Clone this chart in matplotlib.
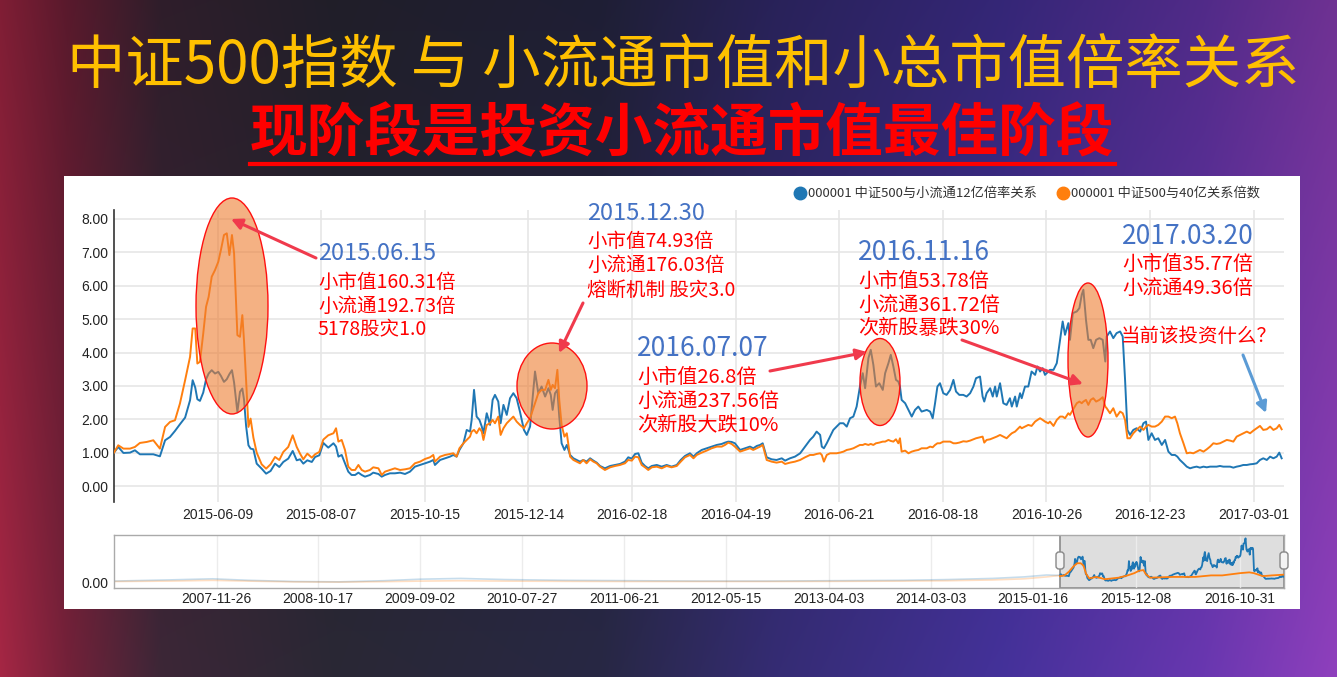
import numpy as np
import matplotlib
matplotlib.use('Agg')
import matplotlib.pyplot as plt
from matplotlib.patches import Ellipse, Rectangle, FancyBboxPatch

plt.rcParams['font.family'] = ['Noto Sans CJK SC', 'DejaVu Sans']

# ---------------- data (x = trading day index since 2015-04) ----------------
day_a = [0, 1.8, 4.0, 6.8, 8.9, 11.0, 13.9, 16.7, 19.5, 21.7, 23.8, 25.9, 28.0, 30.2, 32.3,
         33.4, 34.5, 35.4, 36.5, 37.9, 39.1, 40.2, 41.5, 42.9, 44.3, 45.4, 46.7, 47.9, 49.0,
         50.1, 51.0, 51.8, 52.4, 53.5, 54.5, 55.2, 56.1, 57.1, 58.0, 59.2, 60.6, 62.7, 64.6,
         66.5, 68.4, 70.2, 71.9, 74.0, 75.9, 77.6, 79.0, 80.4, 82.1, 84.0, 85.4, 87.2, 88.9, 91.0]
blue_a = [1.00, 1.17, 0.99, 1.00, 1.07, 0.95, 0.95, 0.95, 0.89, 1.37, 1.47, 1.65, 1.85, 2.05, 2.57,
          3.17, 2.95, 2.60, 2.55, 2.80, 3.20, 3.37, 3.47, 3.37, 3.42, 3.30, 3.12, 3.20, 3.35,
          3.47, 3.10, 2.60, 2.22, 2.82, 2.92, 2.60, 1.80, 1.22, 1.12, 1.10, 0.67, 0.52, 0.37,
          0.45, 0.67, 0.57, 0.72, 0.82, 1.05, 0.77, 0.80, 0.67, 0.77, 0.72, 0.87, 0.92, 1.29, 1.15]
orange_a = [1.00, 1.22, 1.12, 1.12, 1.17, 1.29, 1.32, 1.37, 1.12, 1.77, 1.92, 1.97, 2.47, 3.17, 3.87,
            4.72, 4.72, 3.67, 3.72, 4.57, 5.37, 5.67, 6.27, 6.47, 6.72, 7.07, 7.52, 7.57, 6.92,
            7.52, 6.97, 5.57, 4.52, 4.47, 5.12, 4.37, 3.17, 1.77, 2.02, 1.45, 1.00, 0.65, 0.52,
            0.65, 0.87, 0.78, 1.02, 1.17, 1.52, 1.17, 0.97, 0.80, 0.97, 0.85, 0.95, 1.02, 1.39, 1.52]

day_b = [93.2, 94.3, 95.3, 96.7, 98.1, 99.5, 100.9, 102.4, 103.8, 105.2, 106.6, 108.7, 110.1,
         112.3, 113.7, 115.1, 117.2, 119.3, 121.5, 123.6, 125.7, 127.8, 130.0, 132.1, 134.2,
         135.6, 136.3, 138.5, 140.6, 142.7, 144.1, 145.5, 146.7, 148.4, 149.8, 151.2, 151.9,
         152.9, 154.0, 155.2, 156.2, 156.9, 158.3, 159.7, 160.8, 161.8, 163.2, 164.2, 165.4,
         166.8, 168.2, 169.6, 171.0, 172.4, 174.1, 175.3, 176.7, 178.8, 180.2, 181.6, 183.1,
         184.5, 185.5, 186.3, 187.3, 188.3, 189.1, 190.1, 191.3, 192.3]
blue_b = [1.28, 1.18, 0.88, 0.93, 0.68, 0.43, 0.33, 0.33, 0.40, 0.33, 0.28, 0.33, 0.40,
          0.36, 0.28, 0.33, 0.38, 0.38, 0.40, 0.36, 0.43, 0.58, 0.63, 0.68, 0.73,
          0.78, 0.63, 0.78, 0.83, 0.88, 0.93, 0.88, 1.08, 1.28, 1.68, 1.63, 1.98,
          2.88, 2.08, 1.98, 1.78, 1.58, 2.18, 1.83, 2.58, 2.73, 2.53, 1.88, 2.43,
          2.13, 2.63, 2.78, 2.63, 2.23, 1.68, 1.53, 1.78, 3.43, 2.78, 2.98, 2.68,
          2.93, 2.73, 2.28, 2.78, 2.88, 2.08, 1.28, 1.08, 1.23]
orange_b = [1.58, 1.73, 1.33, 1.38, 1.08, 0.58, 0.48, 0.48, 0.63, 0.48, 0.43, 0.48, 0.56,
            0.53, 0.33, 0.43, 0.48, 0.53, 0.48, 0.50, 0.53, 0.68, 0.73, 0.81, 0.86,
            0.93, 0.73, 0.88, 0.93, 0.96, 0.98, 0.88, 1.13, 1.28, 1.38, 1.48, 1.63,
            1.68, 1.58, 1.73, 1.63, 1.38, 1.83, 1.88, 1.98, 1.88, 2.08, 1.53, 1.73,
            1.88, 1.98, 2.08, 1.93, 1.83, 1.73, 1.88, 2.03, 2.48, 2.78, 2.88, 2.88,
            3.18, 2.88, 3.03, 2.93, 3.48, 2.58, 1.83, 1.48, 1.58]

day_c = [193.7, 195.1, 196.5, 197.9, 199.3, 200.7, 202.2, 203.6, 205.0, 206.4, 208.5, 210.7,
         212.8, 214.9, 217.0, 218.4, 219.9, 221.3, 222.7, 224.1, 225.5, 226.9, 228.4, 230.5,
         232.6, 234.7, 236.8, 239.0, 240.7, 242.5, 244.6, 246.1, 247.5, 249.6, 251.7, 253.8,
         256.0, 258.1, 259.5, 260.9, 262.3, 263.7, 265.9, 268.0, 270.1, 271.5, 273.0, 274.4,
         275.5, 277.2, 279.3, 281.4, 283.6, 285.0, 287.1, 289.2, 291.4, 293.5]
blue_c = [0.93, 0.83, 0.78, 0.73, 0.78, 0.73, 0.83, 0.76, 0.70, 0.60, 0.53, 0.60,
          0.63, 0.66, 0.73, 0.86, 0.82, 0.96, 0.98, 0.70, 0.60, 0.53, 0.60, 0.63,
          0.58, 0.63, 0.58, 0.63, 0.78, 0.90, 0.98, 0.88, 0.98, 1.08, 1.13, 1.18,
          1.23, 1.26, 1.30, 1.33, 1.32, 1.28, 1.08, 1.13, 1.18, 1.13, 1.20, 1.23,
          1.28, 0.86, 0.80, 0.78, 0.83, 0.76, 0.83, 0.88, 0.98, 1.18]
orange_c = [0.88, 0.78, 0.73, 0.68, 0.78, 0.68, 0.80, 0.73, 0.68, 0.58, 0.48, 0.56,
            0.60, 0.63, 0.68, 0.78, 0.76, 0.88, 0.86, 0.63, 0.56, 0.48, 0.56, 0.58,
            0.53, 0.60, 0.56, 0.60, 0.73, 0.86, 0.93, 0.83, 0.93, 1.00, 1.06, 1.13,
            1.18, 1.18, 1.23, 1.30, 1.26, 1.18, 1.03, 1.08, 1.13, 1.08, 1.13, 1.18,
            1.23, 0.78, 0.73, 0.70, 0.73, 0.66, 0.70, 0.73, 0.78, 0.86]

day_d = [295.6, 297.0, 298.4, 299.9, 300.6, 301.5, 302.7, 304.1, 305.5, 306.9, 308.3, 309.8,
         311.2, 312.6, 314.0, 315.4, 316.8, 318.0, 319.0, 320.4, 321.4, 322.5, 323.6, 325.0,
         326.5, 327.5, 328.9, 329.9, 331.0, 332.1, 333.1, 333.8, 334.5, 336.0, 337.4, 338.8,
         340.2, 341.6, 343.0, 345.2, 346.6, 347.7, 348.7, 349.7, 350.8, 352.2, 353.6, 355.1,
         356.5, 357.6, 359.0, 360.7, 362.1, 363.6, 365.0, 366.1, 367.8, 368.9, 369.6, 370.6,
         372.1, 373.2, 374.2, 374.9, 376.3, 377.7, 379.1, 380.5, 381.3, 382.7, 383.4, 384.8,
         385.5, 386.9, 388.3, 389.7, 391.2, 392.2, 393.3, 394.4, 395.4, 396.8]
blue_d = [1.38, 1.48, 1.63, 1.53, 1.18, 1.13, 1.28, 1.48, 1.68, 1.78, 1.88, 1.88,
          1.78, 2.03, 2.08, 2.38, 2.98, 3.38, 2.93, 3.83, 4.08, 3.63, 2.98, 3.08,
          2.88, 3.38, 3.68, 3.93, 3.58, 3.18, 3.13, 2.98, 2.58, 2.48, 2.28, 2.08,
          2.28, 2.38, 2.23, 2.28, 2.23, 2.03, 2.48, 2.98, 3.08, 2.78, 2.73, 2.88,
          3.18, 2.83, 2.73, 2.73, 2.68, 2.78, 2.98, 3.23, 3.28, 2.68, 2.53, 2.78,
          2.93, 2.68, 2.98, 2.68, 3.08, 2.48, 2.43, 2.63, 2.38, 2.68, 2.38, 2.78,
          2.63, 2.98, 2.98, 3.43, 3.33, 3.58, 3.43, 3.53, 3.33, 3.43]
orange_d = [0.93, 0.93, 0.96, 0.98, 0.93, 0.73, 0.93, 0.98, 0.98, 0.98, 1.00, 1.03,
            1.08, 1.10, 1.13, 1.18, 1.23, 1.23, 1.26, 1.23, 1.26, 1.23, 1.28, 1.30,
            1.33, 1.33, 1.38, 1.35, 1.33, 1.40, 1.28, 1.43, 1.03, 1.06, 0.98, 1.03,
            1.06, 1.08, 1.13, 1.13, 1.18, 1.16, 1.23, 1.28, 1.28, 1.33, 1.33, 1.33,
            1.28, 1.28, 1.30, 1.34, 1.33, 1.36, 1.40, 1.43, 1.46, 1.48, 1.30, 1.38,
            1.40, 1.43, 1.46, 1.48, 1.53, 1.48, 1.43, 1.53, 1.58, 1.63, 1.68, 1.78,
            1.73, 1.78, 1.83, 1.80, 1.93, 1.98, 2.03, 1.98, 1.93, 1.88]

day_e = [397.5, 399.0, 400.4, 401.8, 402.9, 403.9, 405.3, 406.0, 407.2, 408.9, 410.0, 411.0,
         411.7, 412.8, 413.8, 414.8, 415.9, 417.1, 418.5, 419.9, 421.0, 421.6, 423.0, 424.4,
         425.8, 427.3, 428.4, 429.4, 430.4, 431.5, 432.9, 434.3, 435.8, 437.2, 438.3, 439.3,
         440.7, 442.1, 443.5, 445.0, 446.4, 447.8, 449.2, 450.6, 451.6, 452.7, 454.2, 455.6,
         457.0, 458.4, 459.8, 461.2, 462.7, 464.1, 465.5, 466.9, 468.3, 469.7, 471.1, 472.6,
         474.0, 475.4, 476.8, 478.2, 479.6, 481.1, 482.5, 483.9, 485.3, 486.7, 488.1, 489.6,
         491.0, 492.4, 493.8, 494.9, 495.9]
blue_e = [3.48, 3.48, 3.68, 4.38, 4.93, 4.53, 4.88, 4.38, 5.18, 5.23, 5.33, 5.73,
          5.88, 4.98, 4.38, 4.38, 4.13, 4.38, 4.43, 4.38, 3.73, 4.48, 4.63, 4.43,
          4.58, 4.63, 4.48, 3.18, 1.68, 1.53, 1.68, 1.73, 1.63, 1.88, 1.93, 1.38,
          1.58, 1.38, 1.43, 1.23, 1.38, 1.03, 0.93, 0.93, 0.88, 0.78, 0.68, 0.58,
          0.53, 0.56, 0.58, 0.55, 0.58, 0.56, 0.58, 0.58, 0.58, 0.60, 0.58, 0.58,
          0.58, 0.55, 0.58, 0.60, 0.63, 0.63, 0.65, 0.66, 0.68, 0.78, 0.83, 0.78,
          0.88, 0.83, 0.88, 1.00, 0.83]
orange_e = [1.93, 1.80, 1.98, 2.08, 2.08, 2.03, 2.18, 2.13, 2.28, 2.48, 2.53, 2.48,
            2.53, 2.58, 2.43, 2.58, 2.63, 2.53, 2.58, 2.66, 2.38, 2.33, 2.18, 2.33,
            2.08, 2.23, 2.18, 1.98, 1.43, 1.43, 1.58, 1.68, 1.78, 1.68, 1.78, 1.83,
            1.78, 1.78, 1.83, 1.93, 2.08, 2.08, 2.03, 2.08, 1.88, 1.58, 1.28, 0.98,
            1.00, 0.98, 1.03, 1.08, 1.03, 1.10, 1.18, 1.28, 1.26, 1.28, 1.33, 1.38,
            1.36, 1.33, 1.48, 1.53, 1.58, 1.63, 1.58, 1.66, 1.73, 1.80, 1.68, 1.70,
            1.78, 1.68, 1.73, 1.83, 1.70]

# navigator history before the zoomed window (trading days before 2015-04)
hist_day = [-2099, -1980, -1880, -1800, -1700, -1600, -1500, -1420, -1330, -1230, -1100,
            -950, -800, -650, -500, -350, -250, -150, -80, -30, 0]
hist_blue = [0.25, 0.40, 0.55, 0.35, 0.20, 0.15, 0.30, 0.50, 0.60, 0.45, 0.35,
             0.30, 0.25, 0.25, 0.30, 0.35, 0.45, 0.60, 0.80, 1.05, 1.00]
hist_orange = [0.20, 0.25, 0.35, 0.25, 0.15, 0.12, 0.18, 0.25, 0.30, 0.25, 0.22,
               0.20, 0.20, 0.20, 0.22, 0.25, 0.30, 0.40, 0.55, 0.80, 1.00]
# orange series as drawn (coarser) in the navigator's selected window
nav_orange_day = [0, 10, 20, 30, 38, 46, 52, 58, 65, 80, 100, 130, 150, 165, 175, 185,
                  190, 200, 250, 300, 335, 360, 400, 420, 430, 450, 470, 497]
nav_orange = [0.9, 1.0, 1.5, 2.2, 2.6, 2.6, 2.3, 1.2, 0.6, 0.8, 0.5, 0.7, 1.0, 1.3, 1.6, 1.7,
              1.2, 0.7, 0.8, 0.8, 1.0, 1.0, 1.3, 1.4, 1.3, 0.9, 1.0, 1.1]

tick_labels = ['2015-06-09', '2015-08-07', '2015-10-15', '2015-12-14', '2016-02-18', '2016-04-19',
               '2016-06-21', '2016-08-18', '2016-10-26', '2016-12-23', '2017-03-01']
tick_days = [44, 88, 132, 176, 220, 264, 308, 352, 396, 440, 484]
nav_tick_labels = ['2007-11-26', '2008-10-17', '2009-09-02', '2010-07-27', '2011-06-21', '2012-05-15',
                   '2013-04-03', '2014-03-03', '2015-01-16', '2015-12-08', '2016-10-31']
nav_tick_days = [-1871, -1646, -1420, -1194, -967, -741, -513, -286, -60, 169, 399]
y_ticks = [0, 1, 2, 3, 4, 5, 6, 7, 8]

series_names = ['000001 中证500与小流通12亿倍率关系', '000001 中证500与40亿关系倍数']

day = np.array(day_a + day_b + day_c + day_d + day_e)
blue = np.array(blue_a + blue_b + blue_c + blue_d + blue_e)
orange = np.array(orange_a + orange_b + orange_c + orange_d + orange_e)

BLUE = '#1f77b4'
ORANGE = '#ff7f0e'

W, H = 1337, 677
fig = plt.figure(figsize=(W / 100, H / 100), dpi=100)


def fx(px):
    return px / W


def fy(py):
    return 1 - py / H


# ---------------- background ----------------
ax_bg = fig.add_axes([0, 0, 1, 1], zorder=0)
ax_bg.set_xlim(0, W)
ax_bg.set_ylim(H, 0)
ax_bg.axis('off')
xs = np.linspace(0, 1, W)
ys = np.linspace(0, 1, H)
stops_t = [0.00, 0.05, 0.12, 0.25, 0.45, 0.58, 0.75, 0.90, 1.00]
stops_r = [150, 105, 55, 38, 36, 48, 62, 95, 130]
stops_g = [35, 30, 35, 36, 36, 40, 45, 50, 58]
stops_b = [62, 52, 50, 48, 62, 105, 140, 160, 172]
row = np.stack([np.interp(xs, stops_t, stops_r), np.interp(xs, stops_t, stops_g),
                np.interp(xs, stops_t, stops_b)], axis=-1) / 255.0
vfac = (0.85 + 0.25 * ys)[:, None, None]
img = np.clip(row[None, :, :] * vfac, 0, 1)
ax_bg.imshow(img, extent=[0, W, H, 0], aspect='auto', interpolation='bilinear')
ax_bg.add_patch(Rectangle((64, 176), 1236, 433, facecolor='white', edgecolor='none'))
ax_bg.text(683, 66, '中证500指数 与 小流通市值和小总市值倍率关系', color='#FFC000',
           fontsize=42, ha='center', va='center')
ax_bg.text(682, 134, '现阶段是投资小流通市值最佳阶段', color='#FF0000', fontsize=41.5,
           fontweight='bold', ha='center', va='center')
ax_bg.plot([250, 1115], [164, 164], color='#FF0000', lw=3)

# ---------------- main chart ----------------
ax = fig.add_axes([fx(114), fy(502), (1284 - 114) / W, (502 - 210) / H], zorder=1)
ax.set_facecolor('none')
ax.plot(day, blue, color=BLUE, lw=1.4, zorder=3)
ax.plot(day, orange, color=ORANGE, lw=1.4, zorder=3)
ax.set_xlim(0, 496.9)
ax.set_ylim((486 - 502) / 33.375, (486 - 210) / 33.375)
ax.set_yticks(y_ticks)
ax.set_yticklabels([f'{v:.2f}' for v in y_ticks])
ax.set_xticks(tick_days)
ax.set_xticklabels(tick_labels)
ax.grid(True, color='#e6e6e6', lw=1.2, zorder=0)
ax.set_axisbelow(True)
for s in ['top', 'right', 'bottom']:
    ax.spines[s].set_visible(False)
ax.spines['left'].set_color('#333333')
ax.spines['left'].set_linewidth(1.2)
ax.tick_params(axis='both', length=0, labelsize=10, colors='#222222')
ax.tick_params(axis='y', pad=4)
ax.tick_params(axis='x', pad=4)
for lab in ax.get_xticklabels() + ax.get_yticklabels():
    lab.set_family('Liberation Sans')

# ---------------- navigator ----------------
axn = fig.add_axes([fx(114), fy(588), (1284 - 114) / W, (588 - 535) / H], zorder=1)
axn.set_facecolor('none')
axn.axvspan(0, 497, facecolor='#dedede', edgecolor='#8a8a8a', lw=1.2, zorder=1)
axn.plot(hist_day, hist_blue, color=BLUE, lw=1.2, alpha=0.25, zorder=2)
axn.plot(hist_day, hist_orange, color=ORANGE, lw=1.2, alpha=0.25, zorder=2)
axn.plot(day, blue, color=BLUE, lw=1.3, zorder=3)
axn.plot(nav_orange_day, nav_orange, color=ORANGE, lw=1.3, zorder=3)
axn.set_xlim(-2099, 497)
axn.set_ylim((583 - 588) / 7.6, (583 - 535) / 7.6)
axn.set_xticks(nav_tick_days)
axn.set_xticklabels(nav_tick_labels)
axn.set_yticks([0])
axn.set_yticklabels(['0.00'])
axn.grid(True, axis='x', color='#ececec', lw=1.0, zorder=0)
for s in axn.spines.values():
    s.set_color('#aaaaaa')
    s.set_linewidth(1.0)
axn.tick_params(axis='both', length=0, labelsize=10, colors='#222222')
axn.tick_params(axis='x', pad=3)
axn.tick_params(axis='y', pad=4)
for lab in axn.get_xticklabels() + axn.get_yticklabels():
    lab.set_family('Liberation Sans')

# ---------------- overlay: legend, annotations ----------------
ov = fig.add_axes([0, 0, 1, 1], zorder=3)
ov.set_xlim(0, W)
ov.set_ylim(H, 0)
ov.axis('off')
ov.set_facecolor('none')

for cx, color, name in [(800, BLUE, series_names[0]), (1063, ORANGE, series_names[1])]:
    ov.plot(cx, 193, 'o', color=color, ms=9)
    ov.text(cx + 8, 193.5, name, fontsize=9.5, color='#333333', va='center', ha='left')

# navigator handles
for hx in (1060, 1284):
    ov.add_patch(FancyBboxPatch((hx - 4, 552), 8, 17, boxstyle='round,pad=0,rounding_size=3',
                                facecolor='#f4f4f4', edgecolor='#888888', lw=1))

ell_fc = (237 / 255, 125 / 255, 49 / 255, 0.6)
for (cx, cy, w, h) in [(232, 306, 72, 216), (552, 386, 70, 86), (880, 382, 40, 87), (1088, 360, 40, 154)]:
    ov.add_patch(Ellipse((cx, cy), w, h, facecolor=ell_fc, edgecolor='#FF1010', lw=1.0))

RED_ARROW = '#F03A4C'
for tail, head, col in [((316, 258), (231, 219), RED_ARROW),
                        ((583, 303), (559, 353), RED_ARROW),
                        ((770, 371), (867, 352), RED_ARROW),
                        ((962, 340), (1083, 384), RED_ARROW),
                        ((1243, 355), (1266, 413), '#5B9BD5')]:
    ov.annotate('', xy=head, xytext=tail,
                arrowprops=dict(arrowstyle='-|>', color=col, lw=2.2, mutation_scale=16,
                                shrinkA=0, shrinkB=0))

DATE_BLUE = '#4472C4'
notes = [
    (318, 254, '2015.06.15', 17, [(282, '小市值160.31倍'), (306, '小流通192.73倍'), (330, '5178股灾1.0')], 14),
    (587, 214, '2015.12.30', 17, [(241, '小市值74.93倍'), (265, '小流通176.03倍'), (290, '熔断机制 股灾3.0')], 14),
    (637, 348, '2016.07.07', 19, [(377, '小市值26.8倍'), (401, '小流通237.56倍'), (425, '次新股大跌10%')], 14.5),
    (858, 252, '2016.11.16', 19, [(281, '小市值53.78倍'), (305, '小流通361.72倍'), (329, '次新股暴跌30%')], 14.5),
    (1122, 236, '2017.03.20', 19, [(264, '小市值35.77倍'), (288, '小流通49.36倍')], 14.5),
]
for x0, y0, title, tsz, lines, lsz in notes:
    ov.text(x0, y0, title, color=DATE_BLUE, fontsize=tsz, ha='left', va='center')
    for yy, s in lines:
        ov.text(x0, yy, s, color='#FF0000', fontsize=lsz, ha='left', va='center')
ov.text(1121, 336, '当前该投资什么？', color='#FF0000', fontsize=14, ha='left', va='center')

fig.savefig('out.png', dpi=100)
